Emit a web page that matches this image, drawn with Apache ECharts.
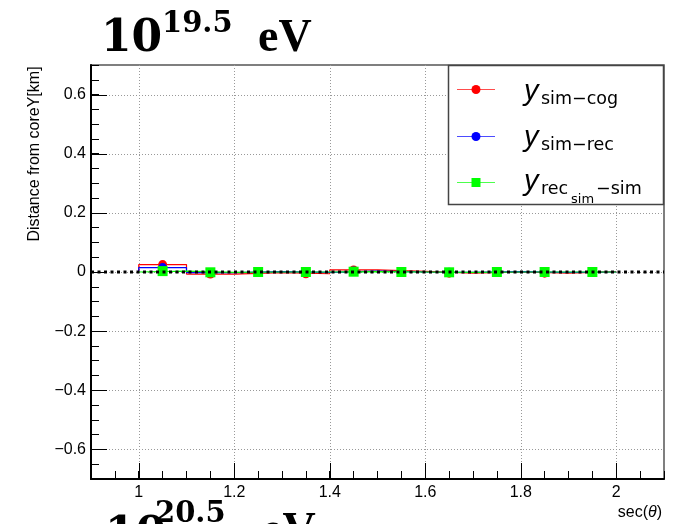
<!DOCTYPE html>
<html>
<head>
<meta charset="UTF-8">
<title>10^19.5 eV</title>
<script src="https://cdn.jsdelivr.net/npm/echarts@6/dist/echarts.min.js"></script>
<style>
  html, body { margin: 0; padding: 0; background: #fff; }
  #main { width: 684px; height: 524px; }
</style>
</head>
<body>
<div id="main"></div>
<script>
// bin centres in sec(theta), bin width 0.1
var secTheta = [1.05, 1.15, 1.25, 1.35, 1.45, 1.55, 1.65, 1.75, 1.85, 1.95];
var ySimCog = [0.025, -0.007, -0.002, -0.006, 0.007, 0.002, -0.004, 0.000, -0.004, 0.001];
var ySimRec = [0.015, -0.002, 0.001, -0.001, 0.003, 0.000, -0.001, 0.001, -0.001, 0.000];
var yRecSim = [0.003, -0.001, 0.000, 0.000, 0.001, 0.000, -0.001, 0.000, 0.000, 0.000];
var xTicks = [1, 1.2, 1.4, 1.6, 1.8, 2];
var yTicks = [-0.6, -0.4, -0.2, 0, 0.2, 0.4, 0.6];
var binWidth = 0.1;

var RED = '#ff0000', BLUE = '#0000ff', GREEN = '#00ff00';
var SANS = '"Liberation Sans", Arial, sans-serif';

// histogram outline for a step line
function outline(vals) {
  var h = binWidth / 2, n = vals.length;
  var pts = [[secTheta[0] - h, 0]];
  for (var i = 0; i < n; i++) pts.push([secTheta[i] - h, vals[i]]);
  pts.push([secTheta[n - 1] + h, vals[n - 1]]);
  pts.push([secTheta[n - 1] + h, 0]);
  return pts;
}
function points(vals) {
  return secTheta.map(function (x, i) { return [x, vals[i]]; });
}
function fmt(v) {
  return String(Math.round(v * 10) / 10).replace('-', '\u2212');
}
// text piece placed by its baseline
function txt(x, base, s, size, family, opt) {
  opt = opt || {};
  return {
    type: 'text', z: 50,
    style: {
      x: x, y: base - 0.3 * size, text: s,
      fontSize: size, fontFamily: family,
      fontStyle: opt.italic ? 'italic' : 'normal',
      fontWeight: opt.bold ? 'bold' : 'normal',
      align: opt.align || 'left', verticalAlign: 'middle', fill: '#000'
    }
  };
}

function stepSeries(vals, color) {
  return {
    type: 'line', data: outline(vals), step: 'end', symbol: 'none', z: 3,
    lineStyle: { color: color, width: 1.2 }, silent: true
  };
}
function markSeries(vals, color, symbol, size) {
  return {
    type: 'scatter', data: points(vals), symbol: symbol, symbolSize: size, z: 4,
    itemStyle: { color: color, opacity: 1 }, silent: true
  };
}

var chart = echarts.init(document.getElementById('main'));

var rows = [89, 136, 182];
var legendItems = [
  { type: 'rect', z: 40, shape: { x: 448.5, y: 65.5, width: 215, height: 139 },
    style: { fill: '#fff', stroke: '#444', lineWidth: 1.5 } }
];
[RED, BLUE, GREEN].forEach(function (c, i) {
  legendItems.push({ type: 'line', z: 41, shape: { x1: 457, y1: rows[i] + 0.5, x2: 495, y2: rows[i] + 0.5 },
    style: { stroke: c, lineWidth: 1, opacity: 0.7 } });
  if (i < 2) {
    legendItems.push({ type: 'circle', z: 42, shape: { cx: 476, cy: rows[i] + 0.5, r: 4.5 }, style: { fill: c } });
  } else {
    legendItems.push({ type: 'rect', z: 42, shape: { x: 471.5, y: rows[i] - 4, width: 9, height: 9 }, style: { fill: c } });
  }
});
var SUB = '"DejaVu Sans", sans-serif';
legendItems.push(
  txt(524, 101, 'y', 29, SANS, { italic: true }),
  txt(541, 105, 'sim\u2212cog', 17.5, SUB),
  txt(524, 147, 'y', 29, SANS, { italic: true }),
  txt(541, 151, 'sim\u2212rec', 17.5, SUB),
  txt(524, 191, 'y', 29, SANS, { italic: true }),
  txt(541, 195, 'rec', 17.5, SUB),
  txt(571, 204, 'sim', 13, SUB),
  txt(596, 195, '\u2212sim', 17.5, SUB)
);

var SERIF = '"DejaVu Serif", serif';
var SERIF2 = '"Liberation Serif", serif';
var titles = [
  txt(101, 53, '10', 44, SERIF, { bold: true }),
  txt(162, 33, '19.5', 29, SERIF, { bold: true }),
  txt(258, 53, 'eV', 46, SERIF2, { bold: true }),
  txt(105, 550, '10', 44, SERIF, { bold: true }),
  txt(155, 523, '20.5', 29, SERIF, { bold: true }),
  txt(262, 546, 'eV', 46, SERIF2, { bold: true }),
  {
    type: 'text', z: 50, x: 35, y: 154, rotation: Math.PI / 2,
    style: { x: 0, y: 0, text: 'Distance from coreY[km]', fontSize: 16, fontFamily: SANS,
      align: 'center', verticalAlign: 'middle', fill: '#000' }
  },
  {
    type: 'text', z: 50,
    style: { x: 662, y: 513, text: 'sec({i|\u03b8})', fontSize: 16, fontFamily: SANS,
      align: 'right', verticalAlign: 'middle', fill: '#000',
      rich: { i: { fontStyle: 'italic', fontSize: 16, fontFamily: SANS } } }
  }
];

var option = {
  animation: false,
  backgroundColor: '#fff',
  grid: { left: 91, right: 20, top: 65, bottom: 45, show: true, borderColor: '#555', borderWidth: 1.5, backgroundColor: '#fff' },
  xAxis: {
    type: 'value', min: 0.9, max: 2.1, interval: 0.05,
    axisLine: { onZero: false, lineStyle: { color: '#000', width: 2 } },
    axisTick: { inside: true, length: 8, lineStyle: { color: '#000', width: 1 } },
    axisLabel: { show: false }, splitLine: { show: false }
  },
  yAxis: {
    type: 'value', min: -0.7, max: 0.7, interval: 0.05,
    axisLine: { show: true, onZero: false, lineStyle: { color: '#000', width: 2 } },
    axisTick: { show: true, inside: true, length: 8, lineStyle: { color: '#000', width: 1 } },
    axisLabel: { show: false }, splitLine: { show: false }
  },
  graphic: legendItems.concat(titles),
  series: [
    {
      // vertical grid lines, major ticks and labels
      type: 'custom', silent: true, clip: false, z: 1,
      data: xTicks.map(function (v) { return [v, 0]; }),
      renderItem: function (params, api) {
        var cs = params.coordSys;
        var p = api.coord([api.value(0), 0]);
        var x = Math.round(p[0]) + 0.5, bot = cs.y + cs.height;
        return { type: 'group', children: [
          { type: 'line', shape: { x1: x, y1: cs.y, x2: x, y2: bot }, style: { stroke: '#999', lineWidth: 1, lineDash: [1, 2] } },
          { type: 'line', shape: { x1: x, y1: bot, x2: x, y2: bot - 16 }, style: { stroke: '#000', lineWidth: 1 } },
          { type: 'text', style: { x: p[0], y: bot + 14, text: fmt(api.value(0)), fontSize: 16, fontFamily: SANS,
            align: 'center', verticalAlign: 'middle', fill: '#000' } }
        ] };
      }
    },
    {
      // horizontal grid lines, major ticks and labels
      type: 'custom', silent: true, clip: false, z: 1,
      data: yTicks.map(function (v) { return [1, v]; }),
      renderItem: function (params, api) {
        var cs = params.coordSys;
        var p = api.coord([1, api.value(1)]);
        var y = Math.round(p[1]) + 0.5;
        return { type: 'group', children: [
          { type: 'line', shape: { x1: cs.x, y1: y, x2: cs.x + cs.width, y2: y }, style: { stroke: '#999', lineWidth: 1, lineDash: [1, 2] } },
          { type: 'line', shape: { x1: cs.x, y1: y, x2: cs.x + 16, y2: y }, style: { stroke: '#000', lineWidth: 1 } },
          { type: 'text', style: { x: cs.x - 5, y: p[1], text: fmt(api.value(1)), fontSize: 16, fontFamily: SANS,
            align: 'right', verticalAlign: 'middle', fill: '#000' } }
        ] };
      }
    },
    stepSeries(ySimCog, RED),
    stepSeries(ySimRec, BLUE),
    stepSeries(yRecSim, GREEN),
    markSeries(ySimCog, RED, 'circle', 9),
    markSeries(ySimRec, BLUE, 'circle', 9),
    markSeries(yRecSim, GREEN, 'rect', 10),
    {
      // dotted zero line on top
      type: 'custom', silent: true, z: 6,
      data: [[1, 0]],
      renderItem: function (params, api) {
        var cs = params.coordSys;
        var p = api.coord([1, api.value(1)]);
        return { type: 'line', shape: { x1: cs.x, y1: p[1], x2: cs.x + cs.width, y2: p[1] },
          style: { stroke: '#000', lineWidth: 3, lineDash: [3, 3.5] } };
      }
    }
  ]
};
chart.setOption(option);
</script>
</body>
</html>
